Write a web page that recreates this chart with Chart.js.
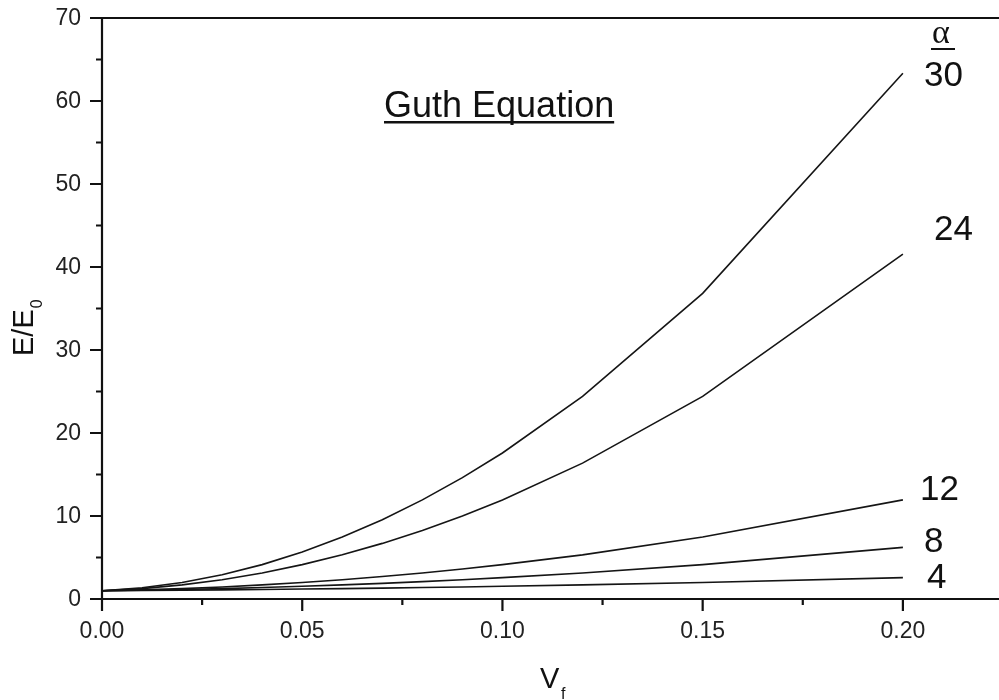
<!DOCTYPE html>
<html>
<head>
<meta charset="utf-8">
<title>Guth Equation</title>
<script src="https://cdn.jsdelivr.net/npm/chart.js@4/dist/chart.umd.min.js"></script>
<style>
  html, body { margin: 0; padding: 0; background: #fff; overflow: hidden; }
  #wrap { position: relative; width: 999px; height: 700px; }
</style>
</head>
<body>
<div id="wrap"><canvas id="guthChart" width="999" height="700"></canvas></div>
<script>
// Filler volume fraction (x values)
const volumeFraction = [0, 0.01, 0.02, 0.03, 0.04, 0.05, 0.06, 0.07, 0.08, 0.09, 0.10, 0.12, 0.15, 0.20];

// E/E0 for each shape factor alpha
const alpha30 = [1, 1.35, 1.99, 2.92, 4.14, 5.65, 7.46, 9.55, 11.94, 14.62, 17.59, 24.41, 36.82, 63.34];
const alpha24 = [1, 1.25, 1.70, 2.32, 3.14, 4.14, 5.32, 6.70, 8.26, 10.01, 11.94, 16.37, 24.41, 41.54];
const alpha12 = [1, 1.10, 1.25, 1.45, 1.70, 1.99, 2.32, 2.71, 3.14, 3.61, 4.14, 5.32, 7.46, 11.94];
const alpha8 = [1, 1.06, 1.15, 1.25, 1.38, 1.53, 1.70, 1.88, 2.09, 2.32, 2.57, 3.14, 4.14, 6.22];
const alpha4 = [1, 1.03, 1.06, 1.10, 1.15, 1.20, 1.25, 1.31, 1.38, 1.45, 1.53, 1.70, 1.99, 2.57];

// Axis ticks
const xMajorTicks = [0, 0.05, 0.10, 0.15, 0.20];
const xTickLabels = ["0.00", "0.05", "0.10", "0.15", "0.20"];
const xMinorTicks = [0.025, 0.075, 0.125, 0.175];
const yMajorTicks = [0, 10, 20, 30, 40, 50, 60, 70];
const yMinorTicks = [5, 15, 25, 35, 45, 55, 65];

const FONT = '"Liberation Sans", Arial, Helvetica, sans-serif';
const INK = "#111";

function toPoints(values) {
  return volumeFraction.map((x, i) => ({ x: x, y: values[i] }));
}

function curve(label, values) {
  return {
    label: label,
    data: toPoints(values),
    borderColor: "#151515",
    borderWidth: 1.6,
    pointRadius: 0,
    tension: 0,
    fill: false,
  };
}

// Draws the axes, tick marks, labels and annotations by hand
const framePlugin = {
  id: "frame",
  afterDraw(chart) {
    const ctx = chart.ctx;
    const xs = chart.scales.x;
    const ys = chart.scales.y;
    const area = chart.chartArea;
    const x0 = xs.getPixelForValue(0);
    const y0 = ys.getPixelForValue(0);
    const yTop = ys.getPixelForValue(70);

    ctx.save();
    ctx.strokeStyle = INK;
    ctx.fillStyle = INK;
    ctx.lineWidth = 2.2;
    ctx.lineCap = "butt";

    // axis lines
    ctx.beginPath();
    ctx.moveTo(x0, yTop);
    ctx.lineTo(x0, y0);
    ctx.moveTo(x0, y0);
    ctx.lineTo(area.right, y0);
    ctx.moveTo(x0, yTop);
    ctx.lineTo(area.right, yTop);
    ctx.stroke();

    // y ticks
    ctx.beginPath();
    yMajorTicks.forEach((v) => {
      const p = ys.getPixelForValue(v);
      ctx.moveTo(x0 - 12, p);
      ctx.lineTo(x0, p);
    });
    yMinorTicks.forEach((v) => {
      const p = ys.getPixelForValue(v);
      ctx.moveTo(x0 - 6, p);
      ctx.lineTo(x0, p);
    });
    // x ticks
    xMajorTicks.forEach((v) => {
      const p = xs.getPixelForValue(v);
      ctx.moveTo(p, y0);
      ctx.lineTo(p, y0 + 12);
    });
    xMinorTicks.forEach((v) => {
      const p = xs.getPixelForValue(v);
      ctx.moveTo(p, y0);
      ctx.lineTo(p, y0 + 6);
    });
    ctx.stroke();

    // tick labels
    ctx.fillStyle = "#222";
    ctx.font = "23px " + FONT;
    ctx.textAlign = "right";
    ctx.textBaseline = "middle";
    yMajorTicks.forEach((v) => {
      ctx.fillText(String(v), x0 - 21, ys.getPixelForValue(v) + 1);
    });
    ctx.textAlign = "center";
    ctx.textBaseline = "alphabetic";
    xMajorTicks.forEach((v, i) => {
      ctx.fillText(xTickLabels[i], xs.getPixelForValue(v), y0 + 39);
    });

    // x axis title: V subscript f
    ctx.fillStyle = INK;
    ctx.textAlign = "left";
    ctx.font = "29px " + FONT;
    ctx.fillText("V", 540, 688);
    ctx.font = "16px " + FONT;
    ctx.fillText("f", 561, 699);

    // y axis title: E/E subscript 0, rotated
    ctx.save();
    ctx.translate(33, 356);
    ctx.rotate(-Math.PI / 2);
    ctx.font = "29px " + FONT;
    ctx.textAlign = "left";
    ctx.fillText("E/E", 0, 0);
    const w = ctx.measureText("E/E").width;
    ctx.font = "16px " + FONT;
    ctx.fillText("0", w + 1, 9);
    ctx.restore();

    // title, underlined
    ctx.font = "36px " + FONT;
    ctx.textAlign = "left";
    ctx.fillText("Guth Equation", 384, 117);
    const tw = ctx.measureText("Guth Equation").width;
    ctx.fillRect(384, 121, tw, 2.5);

    // curve labels
    ctx.font = "34px \"Liberation Serif\", \"DejaVu Serif\", serif";
    ctx.fillText("\u03B1", 932, 43);
    ctx.fillRect(931, 48, 24, 2);
    ctx.font = "35px " + FONT;
    ctx.fillText("30", 924, 86);
    ctx.fillText("24", 934, 240);
    ctx.fillText("12", 920, 500);
    ctx.fillText("8", 924, 552);
    ctx.fillText("4", 927, 588);

    ctx.restore();
  },
};

let guthChart = new Chart(document.getElementById("guthChart").getContext("2d"), {
  type: "line",
  data: {
    datasets: [
      curve("30", alpha30),
      curve("24", alpha24),
      curve("12", alpha12),
      curve("8", alpha8),
      curve("4", alpha4),
    ],
  },
  options: {
    responsive: false,
    animation: false,
    events: [],
    layout: { padding: { left: 102, top: 18, right: 0, bottom: 101 } },
    scales: {
      x: { type: "linear", min: 0, max: 0.224, display: false },
      y: { type: "linear", min: 0, max: 70, display: false },
    },
    plugins: {
      legend: { display: false },
      tooltip: { enabled: false },
    },
  },
  plugins: [framePlugin],
});
</script>
</body>
</html>
